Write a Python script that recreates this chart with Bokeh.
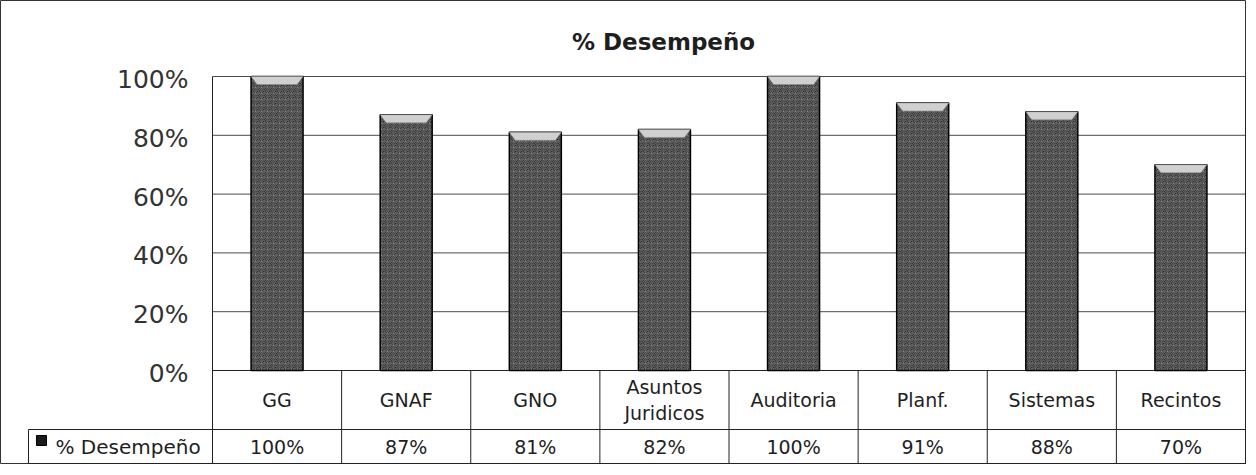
from bokeh.plotting import figure
from bokeh.models import Range1d, ColumnDataSource
from bokeh.core.properties import value
from bokeh.embed import file_html
from bokeh.resources import INLINE

# ---------------- data ----------------
categories = ["GG", "GNAF", "GNO", "Asuntos\nJuridicos", "Auditoria", "Planf.", "Sistemas", "Recintos"]
desempeno = [100, 87, 81, 82, 100, 91, 88, 70]
value_labels = ["100%", "87%", "81%", "82%", "100%", "91%", "88%", "70%"]
y_ticks = [0, 20, 40, 60, 80, 100]
y_tick_labels = ["0%", "20%", "40%", "60%", "80%", "100%"]
title_text = "% Desempeño"
series_name = "% Desempeño"

# ---------------- layout (pixels inside the figure) ----------------
W, H = 1246, 464
PL, PR, PT, PB0 = 212, 1245, 76, 370   # plot area left/right/top and zero line
ROW2 = 429                             # header / value row boundary
LEG_L = 28                             # left edge of legend cell
FONT = value("DejaVu Sans")
TXT = "#1e1e1e"

n = len(categories)
ppu_x = (PR - PL) / n
ppu_y = (PB0 - PT) / 100.0


def X(px):
    return (px - PL) / ppu_x


def Y(py):
    return (PB0 - py) / ppu_y


p = figure(width=W, height=H, output_backend="svg", toolbar_location=None,
           x_axis_location=None, y_axis_location=None,
           x_range=Range1d(X(0), X(W)), y_range=Range1d(Y(H), Y(0)),
           min_border=0, min_border_left=0, min_border_right=0,
           min_border_top=0, min_border_bottom=0)
p.grid.visible = False
p.outline_line_color = "#333333"
p.outline_line_width = 1
p.background_fill_color = "white"
p.border_fill_color = "white"

centers = [i + 0.5 for i in range(n)]

# gridlines
grid_ticks = [t for t in y_ticks if t > 0]
p.segment(x0=[0] * len(grid_ticks), x1=[n] * len(grid_ticks), y0=grid_ticks, y1=grid_ticks,
          line_color="#4a4a4a", line_width=1)

# plot-area left border and right border
p.segment(x0=[0, n], x1=[0, n], y0=[100, 100], y1=[Y(H), Y(H)], line_color="#222222", line_width=1)

# table lines
p.segment(x0=list(range(1, n)), x1=list(range(1, n)), y0=[0] * (n - 1), y1=[Y(H)] * (n - 1),
          line_color="#222222", line_width=1)
p.segment(x0=[0, X(LEG_L), X(LEG_L)], x1=[n, n, n], y0=[0, Y(ROW2), Y(H - 1)], y1=[0, Y(ROW2), Y(H - 1)],
          line_color="#222222", line_width=1)
p.segment(x0=[X(LEG_L)], x1=[X(LEG_L)], y0=[Y(ROW2)], y1=[Y(H)], line_color="#222222", line_width=1)

# bars
bw = 52 / ppu_x
src = ColumnDataSource(dict(x=centers, top=desempeno))
p.vbar(x="x", top="top", bottom=0, width=bw, source=src,
       fill_color="#1a1a1a", line_color="#000000", line_width=1.5,
       hatch_pattern="spiral", hatch_color="#d0d0d0", hatch_scale=6, hatch_weight=1, hatch_alpha=0.5)

# bevel on bar tops
bev_h = 8 / ppu_y
bev_d = 6 / ppu_x
xs = [[c - bw / 2, c + bw / 2, c + bw / 2 - bev_d, c - bw / 2 + bev_d] for c in centers]
ys = [[v, v, v - bev_h, v - bev_h] for v in desempeno]
p.patches(xs=xs, ys=ys, fill_color="#d0d0d0", line_color="#8a8a8a", line_width=0.5)

# title
p.text(x=[X(663)], y=[Y(41)], text=[title_text], text_font=FONT, text_font_style="bold",
       text_font_size="23px", text_align="center", text_baseline="middle", text_color=TXT)

# y tick labels
p.text(x=[X(188)] * len(y_ticks), y=y_ticks, text=y_tick_labels, text_font=FONT,
       text_font_size="25px", text_align="right", text_baseline="middle", text_color="#333333",
       y_offset=3)

# category labels (header row)
p.text(x=centers, y=[Y((PB0 + ROW2) / 2)] * n, text=categories, text_font=FONT,
       text_font_size="19px", text_align="center", text_baseline="middle", text_color=TXT,
       text_line_height=1.15)

# value row
p.text(x=centers, y=[Y((ROW2 + H) / 2)] * n, text=value_labels, text_font=FONT,
       text_font_size="19px", text_align="center", text_baseline="middle", text_color=TXT)

# legend key
p.scatter(x=[X(41)], y=[Y(440)], marker="square", size=10, fill_color="#1a1a1a", line_color="#000000")
p.text(x=[X(55)], y=[Y((ROW2 + H) / 2)], text=[series_name], text_font=FONT,
       text_font_size="20px", text_align="left", text_baseline="middle", text_color=TXT)

open("out.html", "w").write(file_html(p, INLINE))
